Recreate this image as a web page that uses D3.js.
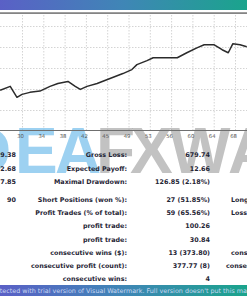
<!DOCTYPE html>
<html>
<head>
<meta charset="utf-8">
<style>
    body { margin: 0; background: #fff; overflow: hidden; }
    svg { display: block; font-family: 'DejaVu Sans', Verdana, sans-serif; }
    .grid line { stroke: #d4d4d4; stroke-dasharray: 1.5, 1.5; }
    .grid .domain { display: none; }
    .x .domain { display: none; }
    .x .tick line { stroke: #999; }
    .x .tick text { font-size: 5.3px; fill: #555; font-family: 'DejaVu Sans', sans-serif; }
    .rows text { font-size: 6.4px; font-weight: bold; fill: #1f2535; }
    .mark { font-family: 'Liberation Sans Narrow', 'Liberation Sans', sans-serif; font-weight: bold; font-size: 64px; }
</style>
</head>
<body>
<svg width="247" height="296"></svg>

<script src="https://d3js.org/d3.v7.min.js"></script>
<script>
    // balance curve: trade number / balance
    let trades  = [26.1, 27.9, 29.1, 30.0, 31.4, 33.2, 35.0, 36.4, 38.2, 39.5, 40.4, 41.6, 43.4, 45.7, 48.0, 49.6, 50.5, 52.3, 53.4, 55.2, 57.7, 59.4, 61.2, 62.5, 64.3, 65.7, 66.8, 67.6, 68.9, 70.1];
    let balance = [6187, 6225, 6121, 6149, 6168, 6180, 6225, 6253, 6272, 6225, 6196, 6225, 6253, 6300, 6347, 6385, 6432, 6470, 6498, 6498, 6498, 6545, 6592, 6621, 6621, 6574, 6545, 6630, 6621, 6602];

    let xLabels = [30, 34, 38, 42, 45, 49, 53, 56, 60, 64, 68];
    let yTicks = [6000, 6200, 6400, 6600, 6800];

    // report table
    let leftValues  = ["9.38", "2.68", "7.85", "90", "", "", "", "", "", ""];
    let rowLabels   = ["Gross Loss:", "Expected Payoff:", "Maximal Drawdown:", "Short Positions (won %):", "Profit Trades (% of total):",
                       "profit trade:", "profit trade:", "consecutive wins ($):", "consecutive profit (count):", "consecutive wins:"];
    let rowValues   = ["679.74", "12.66", "126.85 (2.18%)", "27 (51.85%)", "59 (65.56%)", "100.26", "30.84", "13 (373.80)", "377.77 (8)", "4"];
    let rightLabels = ["", "", "", "Long Positions (won %):", "Loss Trades (% of total):", "", "", "consecutive losses ($):", "consecutive loss (count):", ""];

    let width = 247, height = 296;
    let svg = d3.select("svg");

    let defs = svg.append("defs");
    let grad = defs.append("linearGradient").attr("id", "band");
    grad.append("stop").attr("offset", "0%").attr("stop-color", "#5a60c6");
    grad.append("stop").attr("offset", "50%").attr("stop-color", "#3f86b6");
    grad.append("stop").attr("offset", "100%").attr("stop-color", "#1aa48c");

    // top banner
    svg.append("rect").attr("x", 0).attr("y", 0).attr("width", width).attr("height", 10).attr("fill", "url(#band)");
    svg.append("rect").attr("x", 0).attr("y", 12.3).attr("width", width).attr("height", 1.6).attr("fill", "#777");

    let chartTop = 15, axisY = 130.5;

    let x = d3.scaleLinear()
        .domain([30, 68])
        .range([22, 235]);

    let y = d3.scaleLinear()
        .domain([5800, 6800])
        .range([131, 26]);

    let xTickVals = d3.range(xLabels.length).map(i => 30 + i * 3.8);

    // grids
    svg.append("g")
        .attr("class", "grid")
        .attr("transform", `translate(0,${axisY})`)
        .call(d3.axisBottom(x).tickValues(xTickVals).tickSize(-(axisY - chartTop)).tickFormat(""));

    svg.append("g")
        .attr("class", "grid")
        .call(d3.axisLeft(y).tickValues(yTicks).tickSize(-width).tickFormat(""));

    // watermark
    let wm = svg.append("text").attr("class", "mark").attr("y", 173);
    wm.append("tspan").attr("x", "-35 15 55").attr("fill", "#7cc2ec").attr("fill-opacity", 0.75).text("DEA");
    wm.append("tspan").attr("x", "96 130 170 228").attr("fill", "#999").attr("fill-opacity", 0.6).text("FXWA");

    // x axis
    svg.append("line").attr("x1", 0).attr("x2", width).attr("y1", axisY).attr("y2", axisY)
        .attr("stroke", "#6f6f6f").attr("stroke-width", 1.2);

    svg.append("g")
        .attr("class", "x axis")
        .attr("transform", `translate(-2,${axisY})`)
        .call(d3.axisBottom(x).tickValues(xTickVals).tickSize(0).tickPadding(4)
            .tickFormat((d, i) => xLabels[i]));

    // balance line
    let line = d3.line()
        .x((d, i) => x(trades[i]))
        .y(d => y(d));

    svg.append("path")
        .datum(balance)
        .attr("fill", "none")
        .attr("stroke", "#2b2b2b")
        .attr("stroke-width", 1.5)
        .attr("stroke-linejoin", "round")
        .attr("d", line);

    // table
    let rowY = d3.scaleLinear().domain([0, 9]).range([155, 274]);
    let yOf = i => rowY(i) + (i >= 3 ? 5 : 0) + 2.3;

    let rows = svg.append("g").attr("class", "rows");
    rows.selectAll(".lv").data(leftValues).join("text")
        .attr("x", 16).attr("y", (d, i) => yOf(i)).attr("text-anchor", "end").text(d => d);
    rows.selectAll(".lb").data(rowLabels).join("text")
        .attr("x", 127).attr("y", (d, i) => yOf(i)).attr("text-anchor", "end").text(d => d);
    rows.selectAll(".vl").data(rowValues).join("text")
        .attr("x", 210).attr("y", (d, i) => yOf(i)).attr("text-anchor", "end").text(d => d);
    rows.selectAll(".rl").data(rightLabels).join("text")
        .attr("x", (d, i) => i == 8 ? 226 : 231).attr("y", (d, i) => yOf(i)).text(d => d);

    // bottom banner
    svg.append("rect").attr("x", 0).attr("y", 285).attr("width", width).attr("height", 11).attr("fill", "url(#band)");
    svg.append("text")
        .attr("x", -10.4).attr("y", 292.8)
        .style("font-size", "6.4px").style("fill", "#c9d6f2")
        .text("Protected with trial version of Visual Watermark. Full version doesn't put this mark.");
</script>
</body>
</html>
